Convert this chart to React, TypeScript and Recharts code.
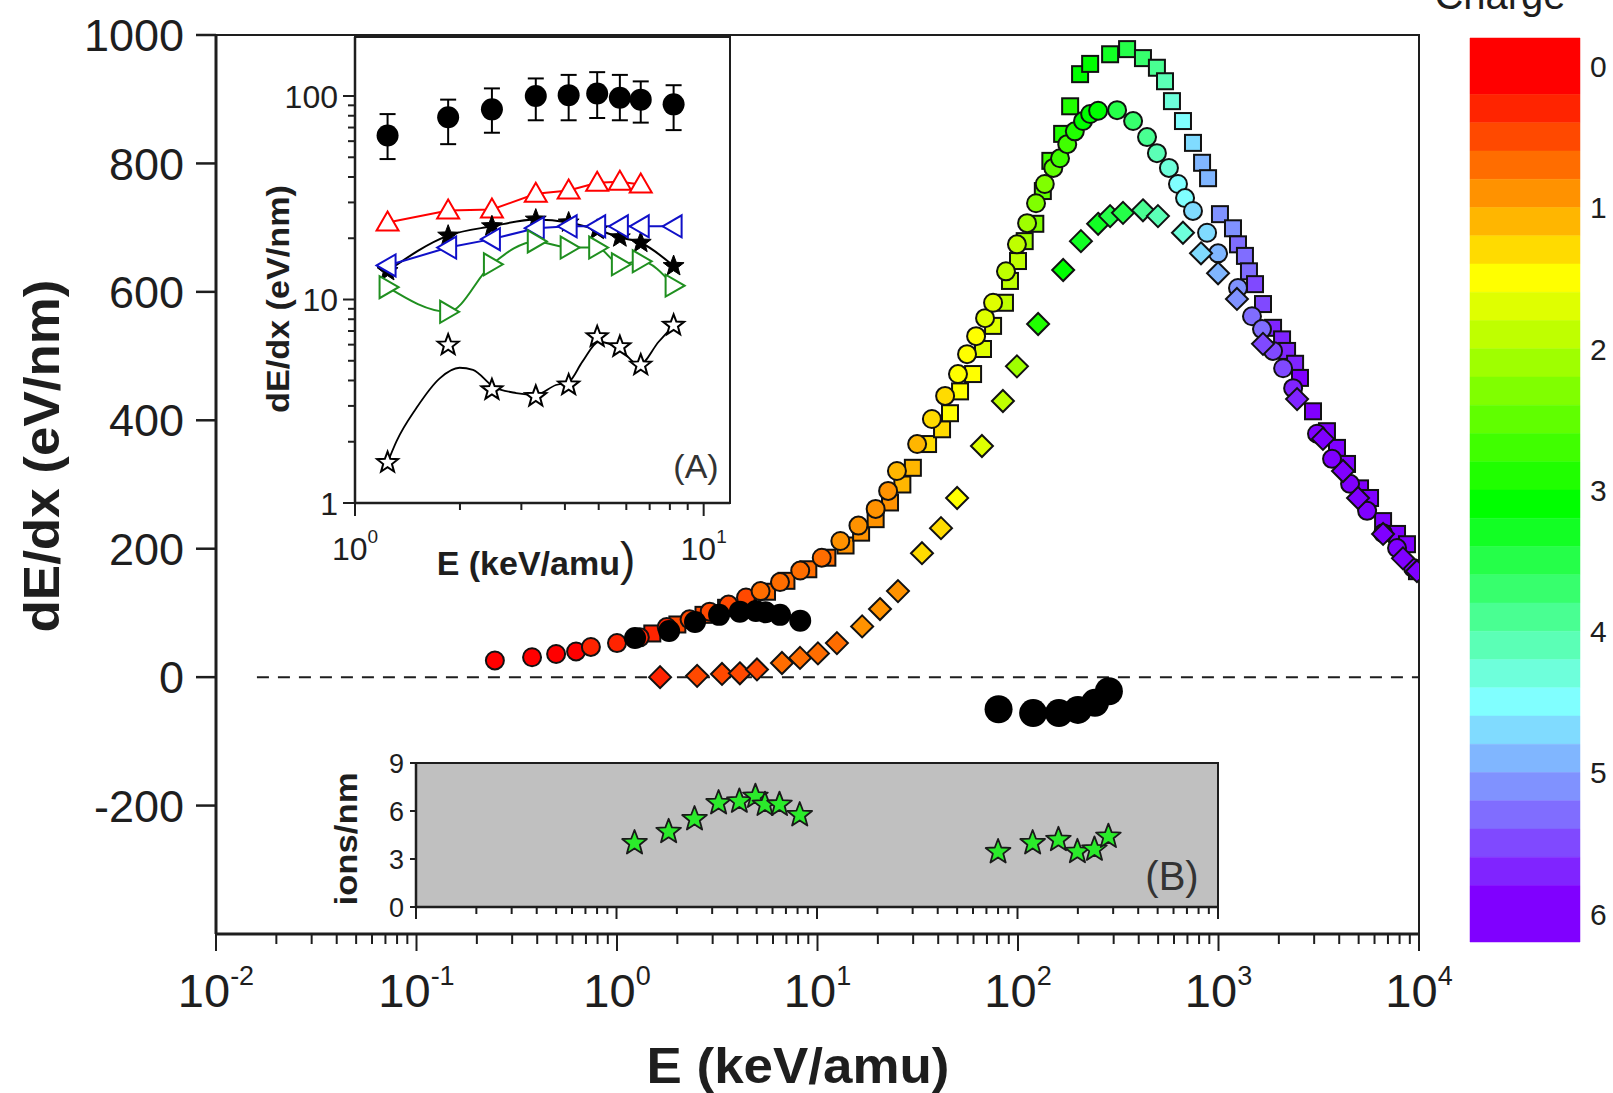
import React from 'react';
import { ComposedChart, Scatter, Line, XAxis, YAxis, ReferenceLine, ReferenceArea, ErrorBar } from 'recharts';

const FONT = "'Liberation Sans', Arial, Helvetica, sans-serif";
const INK = '#1e1e1e';
const W = 1613;
const H = 1093;

// colour scale for the charge bar
const bandEdges = [-0.2, 0.2, 0.4, 0.6, 0.8, 1.0, 1.2, 1.4, 1.6, 1.8, 2.0, 2.2, 2.4, 2.6, 2.8, 3.0,
  3.2, 3.4, 3.6, 3.8, 4.0, 4.2, 4.4, 4.6, 4.8, 5.0, 5.2, 5.4, 5.6, 5.8, 6.2];
const bandColors = ['#FF0000', '#FF2400', '#FF4900', '#FF6D00', '#FF9200', '#FFB600', '#FFDB00', '#FFFF00',
  '#DFFF00', '#BFFF00', '#9FFF00', '#80FF00', '#60FF00', '#40FF00', '#20FF00', '#00FF00',
  '#12FF24', '#25FF49', '#37FF6D', '#49FF92', '#5BFFB6', '#6EFFDB', '#80FFFF',
  '#80DBFF', '#80B6FF', '#8092FF', '#806DFF', '#8049FF', '#8024FF', '#8000FF'];
const chargeTicks = [0, 1, 2, 3, 4, 5, 6];

// main panel, squares
const sqE = [1.5, 2.0, 2.7, 3.5, 4.5, 5.6, 7.0, 9.0, 11.2, 13.8, 16.5, 19.5, 23, 26.5, 29.9, 35.6, 41.8, 45.8, 51.4, 59.7,
  66.9, 75.1, 86.1, 91.2, 100, 108, 122, 133, 145, 166, 182, 204, 229, 288, 350, 420, 493, 541, 586, 665,
  746, 828, 887, 1017, 1181, 1251, 1355, 1419, 1521, 1667, 1871, 2075, 2198, 2410, 2549, 2960, 3475, 3899, 4375, 5081,
  5700, 6620, 7770, 8710, 9770];
const sqV = [68, 82, 97, 108, 120, 133, 150, 168, 186, 205, 225, 246, 272, 300, 326, 363, 386, 411, 445, 472,
  511, 547, 583, 617, 648, 679, 706, 757, 804, 846, 889, 939, 955, 970, 978, 964, 949, 928, 897, 866,
  832, 801, 777, 721, 699, 674, 656, 632, 612, 581, 544, 526, 508, 488, 466, 414, 383, 357, 332, 294,
  279, 243, 223, 207, 165];
const sqQ = [0.35, 0.4, 0.45, 0.5, 0.55, 0.6, 0.65, 0.7, 0.75, 0.8, 0.85, 0.9, 0.95, 1.0, 1.1, 1.2, 1.3, 1.4, 1.45, 1.5,
  1.65, 1.7, 1.8, 1.9, 1.95, 2.1, 2.25, 2.45, 2.6, 2.8, 2.9, 3.05, 3.15, 3.3, 3.5, 3.7, 3.95, 4.1, 4.3, 4.5,
  4.65, 4.8, 4.9, 5.05, 5.15, 5.2, 5.3, 5.35, 5.4, 5.5, 5.6, 5.65, 5.7, 5.75, 5.8, 5.9, 6, 6, 6, 6,
  6, 6, 6, 6, 6];

// main panel, circles
const ciE = [0.246, 0.377, 0.497, 0.625, 0.741, 1.0, 1.3, 1.77, 2.3, 2.9, 3.6, 4.4, 5.2, 6.5, 8.2, 10.5, 13, 16, 19.5, 22.5,
  24.9, 31.4, 37.2, 43.3, 50.2, 55.7, 61.8, 68.5, 75.1, 87.1, 98.8, 111, 123, 136, 150, 162, 176, 192, 211, 229,
  251, 312, 375, 440, 493, 566, 628, 681, 746, 877, 995, 1251, 1469, 1648, 1871, 2100, 2356, 3100, 3684, 4530,
  5510, 6620, 7770, 9340];
const ciV = [26, 31, 36, 40, 47, 53, 62, 78, 90, 102, 113, 124, 134, 148, 166, 186, 212, 236, 262, 290,
  321, 363, 402, 438, 472, 503, 531, 559, 583, 632, 674, 707, 738, 768, 793, 808, 830, 850, 866, 877,
  882, 883, 866, 841, 816, 793, 768, 746, 726, 692, 660, 606, 562, 542, 508, 481, 450, 379, 340, 301,
  259, 224, 201, 170];
const ciQ = [0, 0.05, 0.1, 0.15, 0.2, 0.25, 0.3, 0.35, 0.4, 0.45, 0.5, 0.55, 0.6, 0.65, 0.7, 0.75, 0.8, 0.85, 0.9, 0.95,
  1.0, 1.1, 1.2, 1.3, 1.4, 1.45, 1.55, 1.65, 1.75, 1.85, 1.95, 2.1, 2.2, 2.35, 2.5, 2.6, 2.75, 2.85, 3.0, 3.05,
  3.15, 3.5, 3.7, 3.9, 4.1, 4.3, 4.45, 4.55, 4.65, 4.75, 4.85, 5.05, 5.2, 5.3, 5.4, 5.5, 5.6, 5.8, 6, 6,
  6, 6, 6, 6];

// main panel, diamonds
const diE = [1.64, 2.51, 3.34, 4.1, 4.99, 6.65, 8.18, 10.05, 12.5, 16.7, 20.5, 25.2, 33.2, 41.3, 49.7, 66.1, 84.1, 98.8, 126, 168,
  206, 251, 288, 334, 420, 499, 665, 818, 995, 1236, 1667, 2466, 3319, 4178, 4966, 6620, 8320, 9770];
const diV = [0, 2, 5, 6, 12, 22, 30, 37, 53, 79, 106, 134, 193, 232, 279, 360, 430, 484, 550, 634,
  679, 706, 718, 723, 727, 718, 692, 660, 629, 589, 519, 433, 371, 321, 279, 223, 185, 165];
const diQ = [0.35, 0.4, 0.45, 0.5, 0.55, 0.6, 0.65, 0.7, 0.75, 0.85, 0.9, 0.95, 1.25, 1.3, 1.45, 1.7, 1.9, 2.1, 2.8, 3.0,
  3.2, 3.3, 3.4, 3.5, 3.85, 4.05, 4.35, 4.6, 4.9, 5.1, 5.4, 5.7, 5.9, 6, 6, 6, 6, 6];

// main panel, black circles (low energy and negative branch)
const lowE = [1.23, 1.82, 2.45, 3.23, 4.1, 4.93, 5.5, 6.5, 8.2];
const lowV = [61, 72, 86, 97, 102, 103, 101, 97, 88];
const negE = [80, 119, 160, 199, 242, 284];
const negV = [-50, -56, -56, -51, -40, -22];

// inset (A)
const aE = [1.24, 1.85, 2.47, 3.3, 4.1, 4.95, 5.75, 6.6, 8.2];
const aDot = [64, 78.7, 86, 100, 101, 103, 98, 96, 91];
const aDotHi = [81.5, 96, 109, 122, 127, 131, 127, 118, 113];
const aDotLo = [49, 58, 66, 76, 76, 78, 76, 74, 68];
const aRed = [23.9, 27.4, 27.7, 33.1, 34.3, 37.5, 37.9, 36.7];
const aBlue = [14.7, 18.0, 19.8, 22.4, 22.9, 22.9, 22.9, 22.9, 22.9];
const aStar = [13.8, 20.6, 22.9, 24.7, 23.9, 22.0, 20.2, 19.0, 14.6];
const aGreen = [11.5, 8.7, 14.9, 19.3, 18.0, 18.0, 14.9, 15.4, 11.7];
const aOpen = [1.58, 5.97, 3.6, 3.34, 3.8, 6.56, 5.86, 4.76, 7.47];
const aFitE = [1.245, 1.315, 1.5, 1.75, 1.995, 2.18, 2.49, 2.9, 3.3, 3.77, 4.11, 4.49, 5.01, 5.72, 6.53, 7.43, 8.28];
const aFitV = [1.61, 2.01, 2.93, 4.1, 4.62, 4.51, 3.74, 3.47, 3.4, 3.8, 3.95, 4.95, 6.2, 5.75, 4.76, 6.2, 7.6];

// inset (B)
const bE = [1.23, 1.82, 2.45, 3.23, 4.1, 4.93, 5.5, 6.5, 8.2, 80, 119, 160, 199, 242, 284];
const bIons = [4.0, 4.7, 5.5, 6.5, 6.6, 6.9, 6.4, 6.4, 5.75, 3.44, 4.0, 4.2, 3.45, 3.6, 4.4];

// ticks
const mults = [1, 2, 3, 4, 5, 6, 7, 8, 9];
const logTicks = (decades: number[], last: number) => [...decades.flatMap((d) => mults.map((m) => +(d * m).toPrecision(3))), last];
const mainXTicks = logTicks([0.01, 0.1, 1, 10, 100, 1000], 10000);
const mainYTicks = [-200, 0, 200, 400, 600, 800, 1000];
const rightYTicks = [-300, -200, -100, 0, 100, 200, 300, 400, 500, 600, 700, 800, 900];
const aXTicks = [1, 2, 3, 4, 5, 6, 7, 8, 9, 10];
const aYTicks = logTicks([1, 10], 100);
const bXTicks = logTicks([0.1, 1, 10, 100], 1000);
const bYTicks = [0, 3, 6, 9];

const chargeColor = (q: number) => {
  for (let i = 0; i < bandColors.length; i++) if (q < bandEdges[i + 1]) return bandColors[i];
  return bandColors[bandColors.length - 1];
};
const pts = (es: number[], vs: number[], qs?: number[]) =>
  vs.map((v, i) => ({ e: es[i], v, col: qs ? chargeColor(qs[i]) : '#111' }));

const squares = pts(sqE, sqV, sqQ);
const circles = pts(ciE, ciV, ciQ);
const diamonds = pts(diE, diV, diQ);
const blackLow = pts(lowE, lowV);
const blackNeg = pts(negE, negV);
const aDots = aDot.map((v, i) => ({ e: aE[i], v, err: [v - aDotLo[i], aDotHi[i] - v] }));
const aRedPts = pts(aE, aRed);
const aBluePts = pts(aE, aBlue);
const aStarPts = pts(aE, aStar);
const aGreenPts = pts(aE, aGreen);
const aOpenPts = pts(aE, aOpen);
const aFit = pts(aFitE, aFitV);
const bPts = pts(bE, bIons);
// two corner rows so the colour bar chart has axis extents
const barExtent = [{ x: 0, y: bandEdges[0] }, { x: 1, y: bandEdges[bandEdges.length - 1] }];

const isDecade = (v: number) => {
  const lg = Math.log10(v);
  return Math.abs(lg - Math.round(lg)) < 1e-6;
};

const starPoints = (cx: number, cy: number, R: number, r: number) =>
  Array.from({ length: 10 }, (_, i) => {
    const a = -Math.PI / 2 + (i * Math.PI) / 5;
    const rad = i % 2 ? r : R;
    return `${cx + rad * Math.cos(a)},${cy + rad * Math.sin(a)}`;
  }).join(' ');

// markers
const SquareMark = (p: any) => (
  <rect x={p.cx - 8} y={p.cy - 8} width={16} height={16} fill={p.payload.col} stroke="#111" strokeWidth={2} />
);
const CircleMark = (p: any) => <circle cx={p.cx} cy={p.cy} r={9} fill={p.payload.col} stroke="#111" strokeWidth={2} />;
const DiamondMark = (p: any) => (
  <polygon
    points={`${p.cx},${p.cy - 11} ${p.cx + 11},${p.cy} ${p.cx},${p.cy + 11} ${p.cx - 11},${p.cy}`}
    fill={p.payload.col} stroke="#111" strokeWidth={2} strokeLinejoin="miter"
  />
);
const BlackLow = (p: any) => <circle cx={p.cx} cy={p.cy} r={11} fill="#000" />;
const BlackNeg = (p: any) => <circle cx={p.cx} cy={p.cy} r={14} fill="#000" />;
const BigDot = (p: any) => <circle cx={p.cx} cy={p.cy} r={11} fill="#000" />;
const Nothing = () => <g />;
const GreenStar = (p: any) => (
  <polygon points={starPoints(p.cx, p.cy, 13, 5.5)} fill="#2BEB2B" stroke="#1a1a1a" strokeWidth={1.8} strokeLinejoin="round" />
);
const OpenStar = (p: any) => (
  <polygon points={starPoints(p.cx, p.cy, 11, 4.6)} fill="#fff" stroke="#000" strokeWidth={2} />
);
const tri = (dir: string, color: string) => (p: any) => {
  const { cx, cy } = p;
  if (cx == null || cy == null) return <g key={p.index} />;
  const s = 11;
  const pts =
    dir === 'up' ? `${cx},${cy - s} ${cx + s},${cy + 8} ${cx - s},${cy + 8}`
      : dir === 'left' ? `${cx - s},${cy} ${cx + 8},${cy - s} ${cx + 8},${cy + s}`
        : `${cx + s},${cy} ${cx - 8},${cy - s} ${cx - 8},${cy + s}`;
  return <polygon key={p.index} points={pts} fill="#fff" stroke={color} strokeWidth={2} />;
};
const filledStar = (p: any) =>
  p.cx == null ? <g key={p.index} /> : <polygon key={p.index} points={starPoints(p.cx, p.cy, 11, 4.6)} fill="#000" stroke="#000" strokeWidth={1} />;

// ticks
const MainXTick = (p: any) => {
  const v = p.payload.value;
  const major = isDecade(v);
  return (
    <g>
      <line x1={p.x} x2={p.x} y1={p.y} y2={p.y + (major ? 17 : 10)} stroke={INK} strokeWidth={2} />
      {major && (
        <text x={p.x} y={p.y + 73} textAnchor="middle" fontSize={47} fill={INK} fontFamily={FONT}>
          <tspan>10</tspan>
          <tspan dy={-22} fontSize={27}>{Math.round(Math.log10(v))}</tspan>
        </text>
      )}
    </g>
  );
};
const MainYTick = (p: any) => (
  <g>
    <line x1={p.x} x2={p.x - 20} y1={p.y} y2={p.y} stroke={INK} strokeWidth={2.5} />
    <text x={p.x - 32} y={p.y} dy="0.36em" textAnchor="end" fontSize={45} fill={INK} fontFamily={FONT}>
      {p.payload.value}
    </text>
  </g>
);
const RightTick = (p: any) => <line x1={p.x} x2={p.x - 12} y1={p.y} y2={p.y} stroke={INK} strokeWidth={2} />;
const AXTick = (p: any) => {
  const v = p.payload.value;
  const major = isDecade(v);
  return (
    <g>
      <line x1={p.x} x2={p.x} y1={p.y} y2={p.y + (major ? 13 : 7)} stroke={INK} strokeWidth={2} />
      {major && (
        <text x={p.x} y={p.y + 57} textAnchor="middle" fontSize={32} fill={INK} fontFamily={FONT}>
          <tspan>10</tspan>
          <tspan dy={-17} fontSize={19}>{Math.round(Math.log10(v))}</tspan>
        </text>
      )}
    </g>
  );
};
const AYTick = (p: any) => {
  const v = p.payload.value;
  const major = isDecade(v);
  return (
    <g>
      <line x1={p.x} x2={p.x - (major ? 12 : 7)} y1={p.y} y2={p.y} stroke={INK} strokeWidth={2} />
      {major && (
        <text x={p.x - 17} y={p.y} dy="0.36em" textAnchor="end" fontSize={32} fill={INK} fontFamily={FONT}>
          {v}
        </text>
      )}
    </g>
  );
};
const BXTick = (p: any) => (
  <line x1={p.x} x2={p.x} y1={p.y} y2={p.y + (isDecade(p.payload.value) ? 12 : 7)} stroke={INK} strokeWidth={2} />
);
const BYTick = (p: any) => (
  <g>
    <line x1={p.x} x2={p.x - 6} y1={p.y} y2={p.y} stroke={INK} strokeWidth={2} />
    <text x={p.x - 12} y={p.y} dy="0.36em" textAnchor="end" fontSize={27} fill={INK} fontFamily={FONT}>
      {p.payload.value}
    </text>
  </g>
);
const BarTick = (p: any) => (
  <text x={p.x + 10} y={p.y} dy="0.36em" textAnchor="start" fontSize={30} fill={INK} fontFamily={FONT}>
    {p.payload.value}
  </text>
);

const layer: React.CSSProperties = { position: 'absolute', left: 0, top: 0 };

function MainChart() {
  return (
    <ComposedChart width={W} height={H} margin={{ top: 35, right: 194, bottom: 0, left: 0 }}>
      <ReferenceArea x1={0.01} x2={10000} y1={-400} y2={1000} fill="none" stroke={INK} strokeWidth={2} ifOverflow="visible" />
      <ReferenceLine
        segment={[{ x: 0.016, y: 0 }, { x: 10000, y: 0 }]}
        stroke={INK} strokeWidth={2} strokeDasharray="12 9" ifOverflow="visible"
      />
      <XAxis
        dataKey="e" type="number" scale="log" domain={[0.01, 10000]} allowDataOverflow
        ticks={mainXTicks} interval={0} height={159} tickSize={0} tickMargin={0} tickLine={false}
        tick={MainXTick} axisLine={{ stroke: INK, strokeWidth: 3 }}
      />
      <YAxis
        dataKey="v" type="number" domain={[-400, 1000]} allowDataOverflow
        ticks={mainYTicks} interval={0} width={216} tickSize={0} tickMargin={0} tickLine={false}
        tick={MainYTick} axisLine={{ stroke: INK, strokeWidth: 3 }}
      />
      <YAxis
        yAxisId="r" orientation="right" type="number" domain={[-400, 1000]} allowDataOverflow
        ticks={rightYTicks} interval={0} width={0} tickSize={0} tickMargin={0} tickLine={false}
        tick={RightTick} axisLine={false}
      />
      <Scatter data={squares} shape={SquareMark} isAnimationActive={false} />
      <Scatter data={circles} shape={CircleMark} isAnimationActive={false} />
      <Scatter data={diamonds} shape={DiamondMark} isAnimationActive={false} />
      <Scatter data={blackLow} shape={BlackLow} isAnimationActive={false} />
      <Scatter data={blackNeg} shape={BlackNeg} isAnimationActive={false} />
    </ComposedChart>
  );
}

function InsetA() {
  return (
    <ComposedChart width={W} height={H} margin={{ top: 37, right: 883, bottom: 530, left: 255 }}>
      <ReferenceArea x1={1} x2={11.9} y1={1} y2={195} fill="#fff" fillOpacity={1} stroke={INK} strokeWidth={2} ifOverflow="visible" />
      <XAxis
        dataKey="e" type="number" scale="log" domain={[1, 11.9]} allowDataOverflow
        ticks={aXTicks} interval={0} height={60} tickSize={0} tickMargin={0} tickLine={false}
        tick={AXTick} axisLine={{ stroke: INK, strokeWidth: 2.5 }}
      />
      <YAxis
        dataKey="v" type="number" scale="log" domain={[1, 195]} allowDataOverflow
        ticks={aYTicks} interval={0} width={100} tickSize={0} tickMargin={0} tickLine={false}
        tick={AYTick} axisLine={{ stroke: INK, strokeWidth: 2.5 }}
      />
      <Line data={aFit} dataKey="v" type="monotone" stroke="#000" strokeWidth={1.8} dot={false} activeDot={false} isAnimationActive={false} />
      <Line data={aRedPts} dataKey="v" type="linear" stroke="#ff0000" strokeWidth={2} dot={tri('up', '#ff0000')} activeDot={false} isAnimationActive={false} />
      <Line data={aStarPts} dataKey="v" type="monotone" stroke="#000" strokeWidth={2} dot={filledStar} activeDot={false} isAnimationActive={false} />
      <Line data={aBluePts} dataKey="v" type="linear" stroke="#1010c8" strokeWidth={2} dot={tri('left', '#1010c8')} activeDot={false} isAnimationActive={false} />
      <Line data={aGreenPts} dataKey="v" type="monotone" stroke="#1f8f1f" strokeWidth={2} dot={tri('right', '#1f8f1f')} activeDot={false} isAnimationActive={false} />
      <Scatter data={aOpenPts} shape={OpenStar} isAnimationActive={false} />
      <Scatter data={aDots} shape={BigDot} isAnimationActive={false}>
        <ErrorBar dataKey="err" direction="y" width={8} stroke="#000" strokeWidth={2} />
      </Scatter>
    </ComposedChart>
  );
}

function InsetB() {
  return (
    <ComposedChart width={W} height={H} margin={{ top: 763, right: 395, bottom: 146, left: 356 }}>
      <ReferenceArea x1={0.1} x2={1000} y1={0} y2={9} fill="#c0c0c0" fillOpacity={1} stroke={INK} strokeWidth={2} ifOverflow="visible" />
      <XAxis
        dataKey="e" type="number" scale="log" domain={[0.1, 1000]} allowDataOverflow
        ticks={bXTicks} interval={0} height={40} tickSize={0} tickMargin={0} tickLine={false}
        tick={BXTick} axisLine={{ stroke: INK, strokeWidth: 2.5 }}
      />
      <YAxis
        dataKey="v" type="number" domain={[0, 9]} allowDataOverflow
        ticks={bYTicks} interval={0} width={60} tickSize={0} tickMargin={0} tickLine={false}
        tick={BYTick} axisLine={{ stroke: INK, strokeWidth: 2.5 }}
      />
      <Scatter data={bPts} shape={GreenStar} isAnimationActive={false} />
    </ComposedChart>
  );
}

function ColorBar() {
  return (
    <ComposedChart width={W} height={H} margin={{ top: 38, right: 0, bottom: 151, left: 1470 }}>
      <XAxis type="number" dataKey="x" domain={[0, 1]} allowDataOverflow hide />
      <YAxis
        dataKey="y" type="number" orientation="right" reversed domain={[-0.2, 6.2]} allowDataOverflow
        ticks={chargeTicks} interval={0} width={33} tickSize={0} tickMargin={0} tickLine={false}
        axisLine={false} tick={BarTick}
      />
      {bandColors.map((c, i) => (
        <ReferenceArea
          key={i} x1={0} x2={1} y1={bandEdges[i]} y2={bandEdges[i + 1]}
          fill={c} fillOpacity={1} stroke={c} strokeWidth={0.5} ifOverflow="visible"
        />
      ))}
      <Scatter data={barExtent} shape={Nothing} isAnimationActive={false} />
    </ComposedChart>
  );
}

export default function App() {
  return (
    <div style={{ position: 'absolute', left: 0, top: 0, width: W, height: H, background: '#fff', overflow: 'hidden', fontFamily: FONT }}>
      <div style={layer}><MainChart /></div>
      <div style={layer}><InsetA /></div>
      <div style={layer}><InsetB /></div>
      <div style={layer}><ColorBar /></div>
      <svg width={W} height={H} style={{ ...layer, pointerEvents: 'none' }} fontFamily={FONT}>
        <text transform="translate(42,456) rotate(-90)" textAnchor="middle" dominantBaseline="central"
          fontSize={50} fontWeight="bold" fill={INK} textLength={353} lengthAdjust="spacingAndGlyphs">
          dE/dx (eV/nm)
        </text>
        <text x={798} y={1083} textAnchor="middle" fontSize={50} fontWeight="bold" fill={INK}
          textLength={303} lengthAdjust="spacingAndGlyphs">
          E (keV/amu)
        </text>
        <text transform="translate(278,299) rotate(-90)" textAnchor="middle" dominantBaseline="central"
          fontSize={32} fontWeight="bold" fill={INK} textLength={228} lengthAdjust="spacingAndGlyphs">
          dE/dx (eV/nm)
        </text>
        <text x={536} y={575} textAnchor="middle" fontSize={34} fontWeight="bold" fill={INK}>
          E (keV/amu<tspan fontSize={46} fontWeight="normal">)</tspan>
        </text>
        <text x={696} y={478} textAnchor="middle" fontSize={34} fill="#333">(A)</text>
        <text transform="translate(346,839) rotate(-90)" textAnchor="middle" dominantBaseline="central"
          fontSize={31} fontWeight="bold" fill={INK} textLength={133} lengthAdjust="spacingAndGlyphs">
          ions/nm
        </text>
        <text x={1172} y={890} textAnchor="middle" fontSize={40} fill="#333">(B)</text>
        <text x={1500} y={9} textAnchor="middle" fontSize={40} fill={INK}>Charge</text>
      </svg>
    </div>
  );
}
